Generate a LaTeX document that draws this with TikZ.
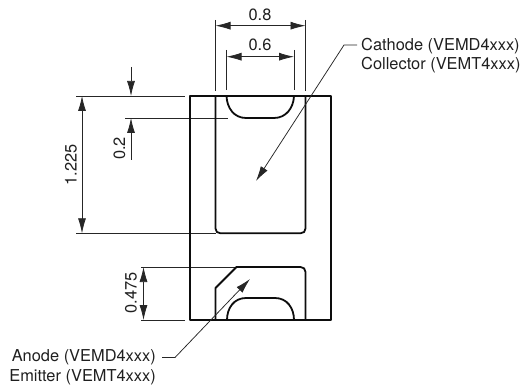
\documentclass[tikz,border=0pt]{standalone}
\usepackage{fontspec}
\setmainfont{TeX Gyre Heros}
\usetikzlibrary{arrows.meta}
\tikzset{
  x=1pt,y=-1pt,
  outline/.style={line width=1.8pt,line join=round,black!95},
  thin line/.style={line width=0.75pt,black!85},
  dimline/.style={thin line,{Latex[length=15pt,width=8pt]}-{Latex[length=15pt,width=8pt]}},
  tipline/.style={thin line,-{Latex[length=15pt,width=8pt]}},
  lab/.style={font=\fontsize{16.4}{19}\selectfont,inner sep=0pt,text=black!88},
}
\begin{document}
\begin{tikzpicture}
\useasboundingbox (0,0) rectangle (524,390);
% extension and dimension coordinates
\coordinate (e08l) at (215.5,20); \coordinate (e08lb) at (215.5,91);
\coordinate (e08r) at (305.5,20); \coordinate (e08rb) at (305.5,91);
\coordinate (d08l) at (215.5,25.7); \coordinate (d08r) at (305.5,25.7);
\coordinate (e06l) at (226.5,50); \coordinate (e06lb) at (226.5,90);
\coordinate (e06r) at (294,50); \coordinate (e06rb) at (294,90);
\coordinate (d06l) at (226.5,56.7); \coordinate (d06r) at (294,56.7);
\coordinate (h96a) at (76,96); \coordinate (h96b) at (185,96);
\coordinate (h118a) at (125,118); \coordinate (h118b) at (228,118);
\coordinate (h233a) at (76,233.3); \coordinate (h233b) at (216,233.3);
\coordinate (h267a) at (141,267); \coordinate (h267b) at (236,267);
\coordinate (h320a) at (141,320); \coordinate (h320b) at (185,320);
\coordinate (d1t) at (82,96); \coordinate (d1b) at (82,233.3);
\coordinate (d2a) at (131,67); \coordinate (d2t) at (131,96);
\coordinate (d2c) at (131,160); \coordinate (d2b) at (131,118);
\coordinate (d3t) at (143.5,267); \coordinate (d3b) at (143.5,320);
% thin lines
\draw[thin line] (e08l) -- (e08lb);
\draw[thin line] (e08r) -- (e08rb);
\draw[thin line] (e06l) -- (e06lb);
\draw[thin line] (e06r) -- (e06rb);
\draw[thin line] (h96a) -- (h96b);
\draw[thin line] (h118a) -- (h118b);
\draw[thin line] (h233a) -- (h233b);
\draw[thin line] (h267a) -- (h267b);
\draw[thin line] (h320a) -- (h320b);
\draw[dimline] (d08l) -- (d08r);
\draw[dimline] (d06l) -- (d06r);
\draw[dimline] (d1t) -- (d1b);
\draw[dimline] (d3t) -- (d3b);
\draw[tipline] (d2a) -- (d2t);
\draw[tipline] (d2c) -- (d2b);
% outlines
\draw[outline] (190,96) rectangle (331,320);
\draw[outline] (215.5,96) -- (215.5,228.5) .. controls (215.5,231.5) and (217.5,233.3) .. (220.5,233.3) -- (300.5,233.3) .. controls (303.5,233.3) and (305.5,231.5) .. (305.5,228.5) -- (305.5,96);
\draw[outline] (226.5,96) .. controls (227,108) and (234,118) .. (246,118) -- (274,118) .. controls (286,118) and (293.5,108) .. (294,96);
\draw[outline] (215.5,320) -- (215.5,288) -- (236.5,267) -- (300.5,267) .. controls (303.5,267) and (305.5,269) .. (305.5,272) -- (305.5,320);
\draw[outline] (227,320) .. controls (227,308) and (234,298) .. (246,298) -- (275,298) .. controls (287,298) and (294,308) .. (294,320);
% leaders
\coordinate (c1) at (357,45); \coordinate (c2) at (344,45); \coordinate (ctip) at (256,181);
\coordinate (a1) at (162,357.5); \coordinate (a2) at (175,357.5); \coordinate (atip) at (250,279);
\draw[tipline] (c1) -- (c2) -- (ctip);
\draw[tipline] (a1) -- (a2) -- (atip);
% labels
\node[lab] (t08) at (260,14.5) {0.8};
\node[lab] (t06) at (260,45) {0.6};
\node[lab,rotate=90] (t1225) at (71,165) {1.225};
\node[lab,rotate=90] (t02) at (119.5,148.5) {0.2};
\node[lab,rotate=90] (t0475) at (131,293) {0.475};
\node[lab,anchor=west] (tc1) at (361,46) {Cathode (VEMD4xxx)};
\node[lab,anchor=west] (tc2) at (361,65.5) {Collector (VEMT4xxx)};
\node[lab,anchor=east] (ta1) at (156,357.5) {Anode (VEMD4xxx)};
\node[lab,anchor=east] (ta2) at (156,377) {Emitter (VEMT4xxx)};
\end{tikzpicture}
\end{document}
